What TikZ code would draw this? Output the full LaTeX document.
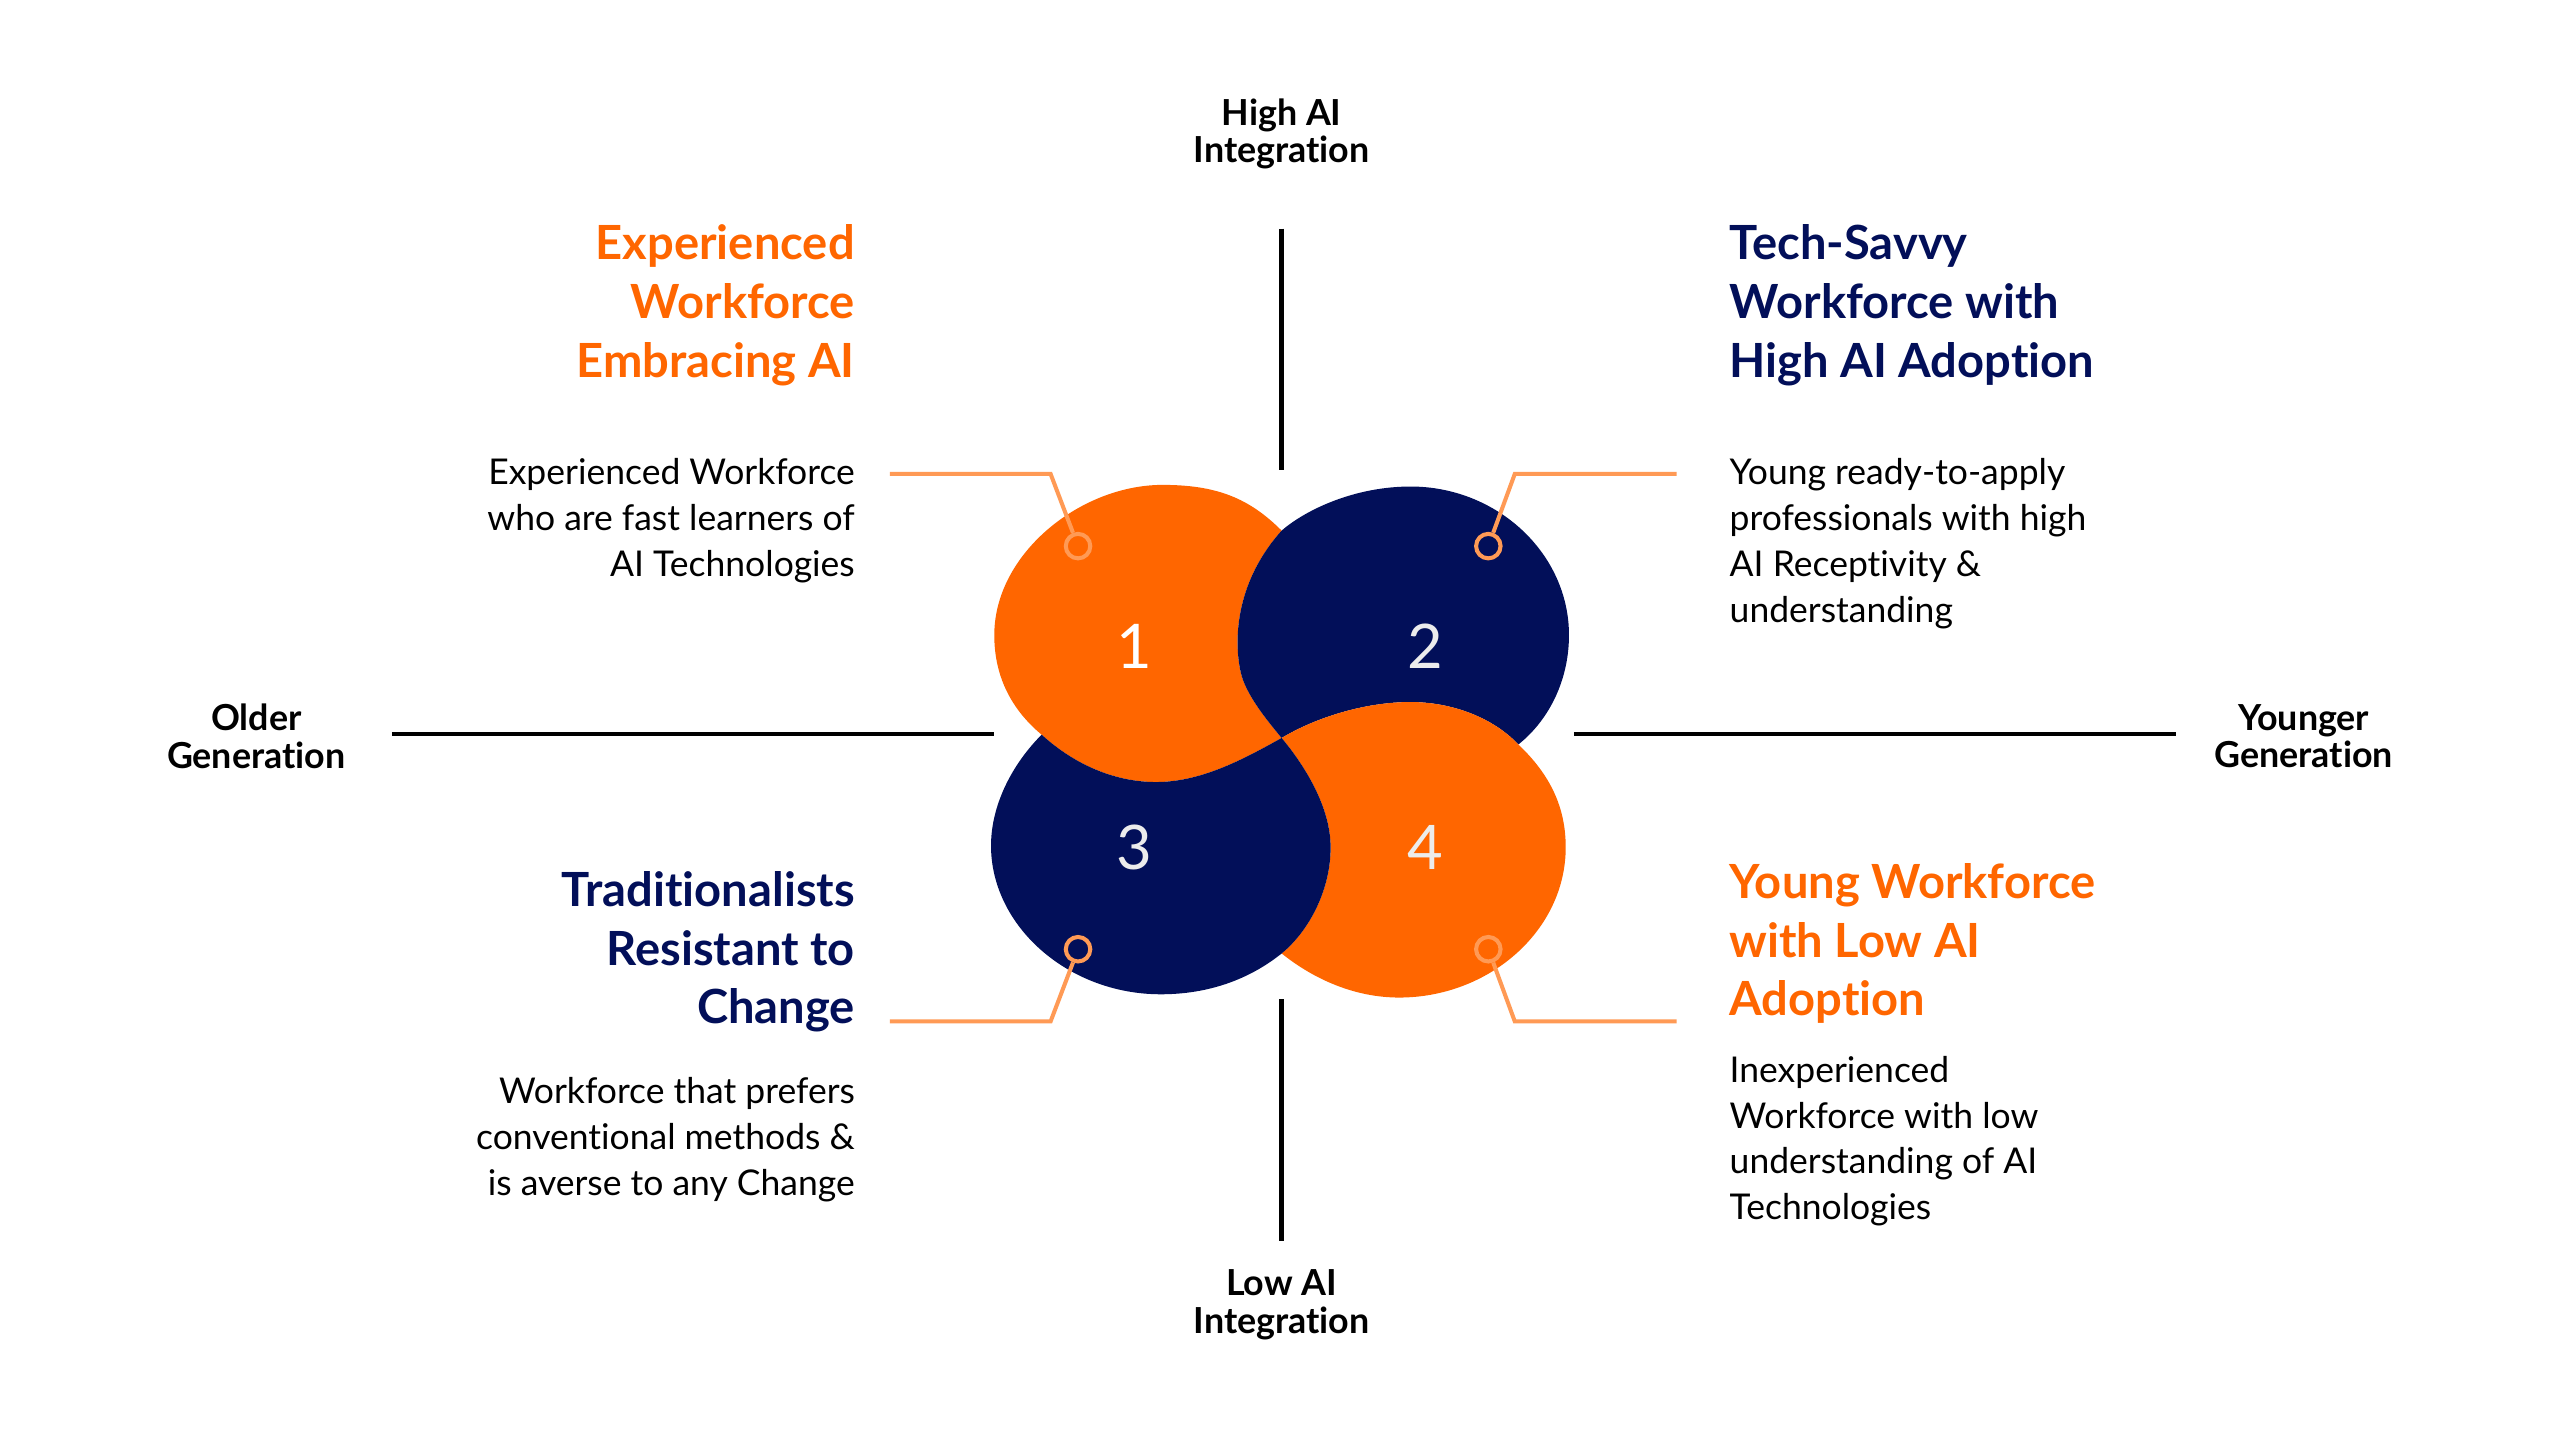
\documentclass[tikz,border=0pt]{standalone}
\usepackage{fontspec}
\setmainfont{Lato}[Ligatures=NoCommon]
\definecolor{orng}{HTML}{FF6600}
\definecolor{navy}{HTML}{020F59}
\definecolor{leadc}{HTML}{FF9A55}
\definecolor{numg}{HTML}{ECECEC}
\begin{document}
\begin{tikzpicture}[x=0.16327mm,y=-0.16327mm,
  ttlR/.style={font=\fontsize{13.4}{16.7}\selectfont\bfseries, inner sep=0pt, align=right, anchor=east},
  ttlL/.style={font=\fontsize{13.4}{16.7}\selectfont\bfseries, inner sep=0pt, align=left, anchor=west},
  bodyR/.style={font=\fontsize{10.1}{13}\selectfont, text=black, inner sep=0pt, align=right, anchor=east},
  bodyL/.style={font=\fontsize{10.1}{13}\selectfont, text=black, inner sep=0pt, align=left, anchor=west},
  axl/.style={font=\fontsize{10.2}{10.7}\selectfont\bfseries, text=black, inner sep=0pt, align=center},
  num/.style={font=\fontsize{17.5}{17.5}\selectfont, text=numg, inner sep=0pt},
  axisln/.style={line width=1.35pt, black},
  leadln/.style={draw=leadc, line width=1.15pt},
  ringdot/.style={circle, draw=leadc, line width=1.15pt, minimum size=2.45mm, inner sep=0pt}]
\fill[white] (0,0) rectangle (1568,882);
\useasboundingbox (0,0) rectangle (1568,882);

% junction points of the four blobs
\coordinate (A) at (785,325);
\coordinate (B) at (930,456);
\coordinate (C) at (785,452);
\coordinate (D) at (785,584);
\coordinate (E) at (638,450);

% blob 1 (orange)
\fill[orng] (A) .. controls (765,305) and (745,297) .. (712,297)
  .. controls (662,297) and (609,339) .. (609,389)
  .. controls (609,415) and (620,435) .. (E)
  .. controls (660,470) and (685,479) .. (708,479)
  .. controls (735,479) and (760,466) .. (C)
  .. controls (775,440) and (763,425) .. (760,412)
  .. controls (755,390) and (758,355) .. (A) -- cycle;
% blob 2 (navy)
\fill[navy] (A) .. controls (800,312) and (830,298) .. (864,298)
  .. controls (917,298) and (961,339) .. (961,389)
  .. controls (961,415) and (950,440) .. (B)
  .. controls (915,440) and (890,430) .. (864,430)
  .. controls (835,430) and (805,440) .. (C)
  .. controls (775,440) and (763,425) .. (760,412)
  .. controls (755,390) and (758,355) .. (A) -- cycle;
% blob 4 (orange)
\fill[orng] (B) .. controls (950,475) and (959,495) .. (959,519)
  .. controls (959,570) and (912,611) .. (857,611)
  .. controls (830,611) and (805,600) .. (D)
  .. controls (802,570) and (815,545) .. (815,519)
  .. controls (815,495) and (800,470) .. (C)
  .. controls (805,440) and (835,430) .. (864,430)
  .. controls (890,430) and (915,440) .. (B) -- cycle;
% blob 3 (navy)
\fill[navy] (D) .. controls (765,600) and (740,609) .. (711,609)
  .. controls (654,609) and (607,567) .. (607,518)
  .. controls (607,493) and (620,468) .. (E)
  .. controls (660,470) and (685,479) .. (708,479)
  .. controls (735,479) and (760,466) .. (C)
  .. controls (800,470) and (815,495) .. (815,519)
  .. controls (815,545) and (802,570) .. (D) -- cycle;

% numbers
\node[num, text=white] (n1) at (695,396) {1};
\node[num] (n2) at (873,396) {2};
\node[num] (n3) at (695,519) {3};
\node[num] (n4) at (873,519) {4};

% axes
\coordinate (vt1) at (785,140); \coordinate (vt2) at (785,288);
\coordinate (vb1) at (785,612); \coordinate (vb2) at (785,760);
\coordinate (hl1) at (240,449.5); \coordinate (hl2) at (609,449.5);
\coordinate (hr1) at (964,449.5); \coordinate (hr2) at (1333,449.5);
\draw[axisln] (vt1) -- (vt2);
\draw[axisln] (vb1) -- (vb2);
\draw[axisln] (hl1) -- (hl2);
\draw[axisln] (hr1) -- (hr2);

\node[axl] (high) at (785,82) {High AI\\Integration};
\node[axl] (low) at (785,799) {Low AI\\Integration};
\node[axl] (old) at (157,451) {Older\\Generation};
\node[axl] (young) at (1411,451) {Younger\\Generation};

% leaders
\node[ringdot] (m1) at (660.3,334.5) {};
\node[ringdot] (m2) at (911.6,334.5) {};
\node[ringdot] (m3) at (660.3,581.4) {};
\node[ringdot] (m4) at (911.6,581.4) {};
\coordinate (l1a) at (545,290.3); \coordinate (l1b) at (643.5,290.3);
\coordinate (l2a) at (1027,290.3); \coordinate (l2b) at (927.8,290.3);
\coordinate (l3a) at (545,625.6); \coordinate (l3b) at (643.5,625.6);
\coordinate (l4a) at (1027,625.6); \coordinate (l4b) at (927.8,625.6);
\draw[leadln] (l1a) -- (l1b) -- (m1);
\draw[leadln] (l2a) -- (l2b) -- (m2);
\draw[leadln] (l3a) -- (l3b) -- (m3);
\draw[leadln] (l4a) -- (l4b) -- (m4);

% quadrant texts
\node[ttlR, text=orng] (t1) at (524,187) {Experienced\\Workforce\\Embracing AI};
\node[bodyR] (b1) at (524,319) {Experienced Workforce\\who are fast learners of\\AI Technologies};
\node[ttlL, text=navy] (t2) at (1059,187) {Tech-Savvy\\Workforce with\\High AI Adoption};
\node[bodyL] (b2) at (1059,333) {Young ready-to-apply\\professionals with high\\AI Receptivity \&\\understanding};
\node[ttlR, text=navy] (t3) at (524,583) {Traditionalists\\Resistant to\\Change};
\node[bodyR] (b3) at (524,698) {Workforce that prefers\\conventional methods \&\\is averse to any Change};
\node[ttlL, text=orng] (t4) at (1059,578) {Young Workforce\\with Low AI\\Adoption};
\node[bodyL] (b4) at (1059,699) {Inexperienced\\Workforce with low\\understanding of AI\\Technologies};
\end{tikzpicture}
\end{document}
